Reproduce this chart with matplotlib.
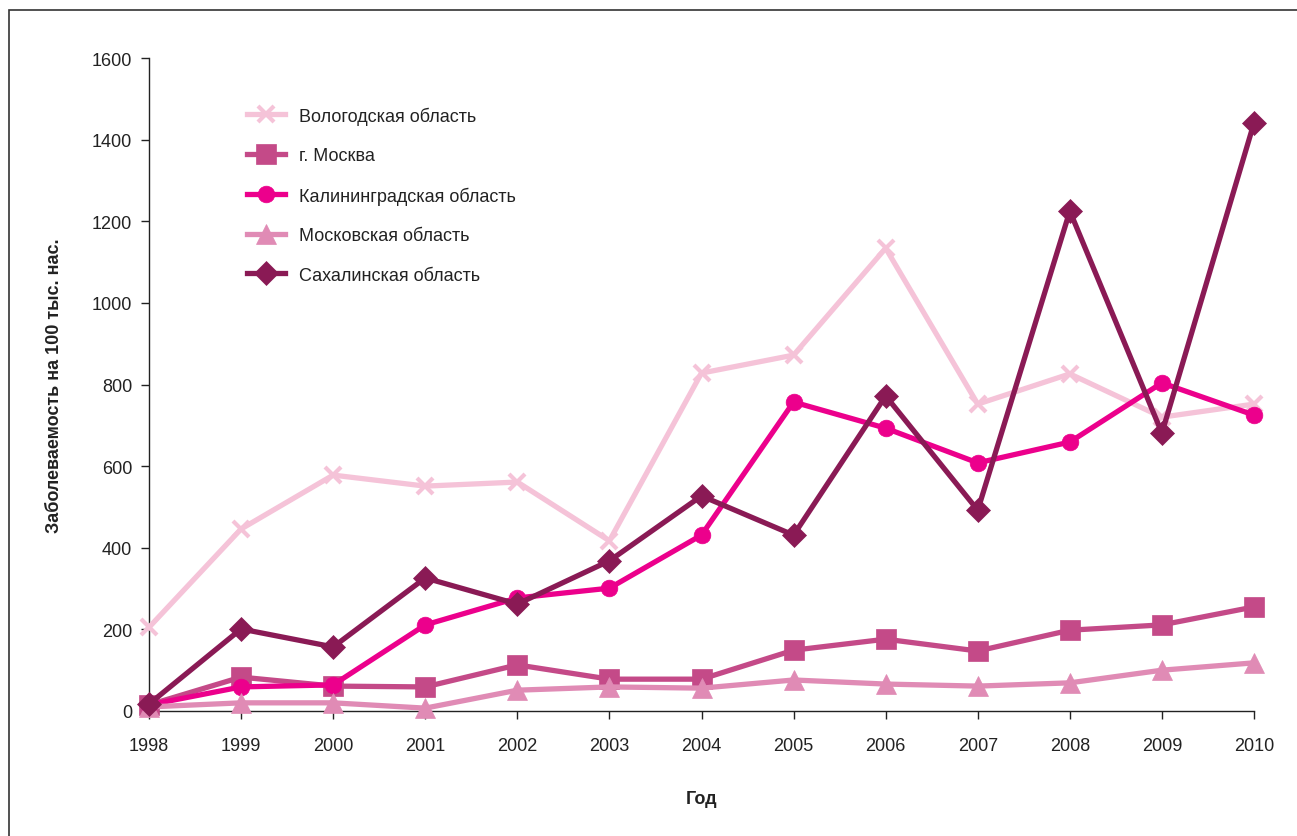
import matplotlib
matplotlib.use("Agg")
import matplotlib.pyplot as plt
from matplotlib.patches import Rectangle

plt.rcParams['font.family'] = ['Liberation Sans', 'DejaVu Sans']

years = [1998, 1999, 2000, 2001, 2002, 2003, 2004, 2005, 2006, 2007, 2008, 2009, 2010]
vologda = [205, 446, 578, 551, 561, 417, 828, 872, 1134, 752, 826, 720, 752]
moscow_city = [15, 83, 61, 59, 113, 78, 78, 149, 176, 147, 198, 211, 255]
kaliningrad = [15, 59, 64, 211, 277, 301, 431, 757, 693, 608, 659, 804, 725]
moscow_obl = [10, 20, 20, 7, 51, 59, 56, 76, 66, 61, 69, 100, 118]
sakhalin = [17, 201, 157, 326, 262, 368, 527, 431, 772, 492, 1225, 681, 1441]

series = [
    ("Вологодская область", vologda, '#F5C3D8', 'x', 12, 3.0),
    ("г. Москва", moscow_city, '#C44A88', 's', 14, 1.0),
    ("Калининградская область", kaliningrad, '#EC008C', 'o', 12, 1.0),
    ("Московская область", moscow_obl, '#E08BB5', '^', 15, 1.0),
    ("Сахалинская область", sakhalin, '#8A1A55', 'D', 12, 1.0),
]

FS = 13

fig = plt.figure(figsize=(12.97, 8.37), dpi=100)
ax = fig.add_axes([149/1297, 1-712/837, (1254-149)/1297, (712-59)/837])

for i, (name, vals, col, mk, ms, mew) in enumerate(series):
    ax.plot(years, vals, color=col, lw=3.8, marker=mk, markersize=ms,
            markeredgewidth=mew if mk == 'x' else 0.5, markeredgecolor=col,
            markerfacecolor=col, label=name, zorder=3+i, clip_on=False)

ax.set_xlim(1998, 2010)
ax.set_ylim(0, 1600)
ax.set_xticks(years)
ax.set_xticklabels([str(y) for y in years])
ax.set_yticks(range(0, 1601, 200))
for s in ['top', 'right']:
    ax.spines[s].set_visible(False)
for s in ['left', 'bottom']:
    ax.spines[s].set_color('#222222')
    ax.spines[s].set_linewidth(1.0)
ax.tick_params(axis='both', direction='out', length=6, width=1.0, colors='#222222',
               labelsize=FS, labelcolor='#222222')
ax.tick_params(axis='x', pad=13)
ax.tick_params(axis='y', pad=6)

ax.set_xlabel("Год", fontsize=FS, fontweight='bold', labelpad=26, color='#222222')
ax.set_ylabel("Заболеваемость на 100 тыс. нас.", fontsize=FS, fontweight='bold',
              labelpad=21, color='#222222')

leg = ax.legend(loc='upper left', bbox_to_anchor=(0.082, 0.937), frameon=False,
                fontsize=FS, handlelength=2.1, labelspacing=1.24, handletextpad=0.8,
                borderaxespad=0)
for t in leg.get_texts():
    t.set_color('#222222')

# outer frame
fig.patches.append(Rectangle((9/1297, -0.05), 1.2, 1-11/837+0.05, transform=fig.transFigure,
                             fill=False, edgecolor='#333333', lw=1.2))

fig.savefig("out.png", dpi=100)
